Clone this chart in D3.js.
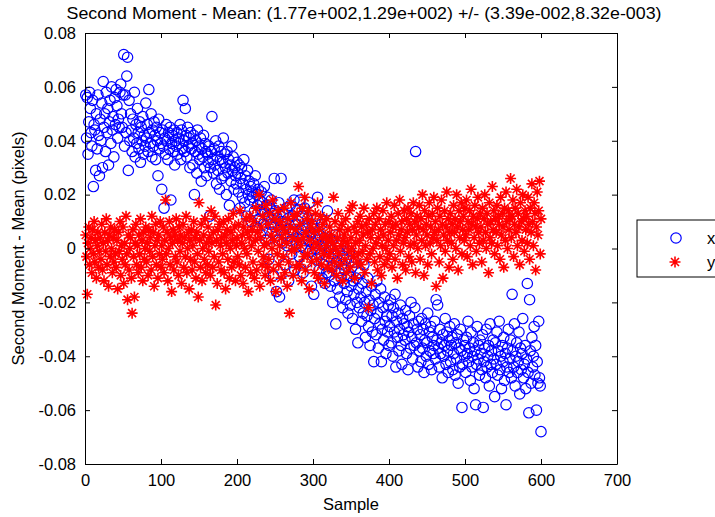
<!DOCTYPE html>
<html>
<head>
<meta charset="utf-8">
<script src="https://d3js.org/d3.v7.min.js"></script>
<style>
  body { margin: 0; background: #fff; }
  svg { display: block; font-family: "Liberation Sans", Arial, sans-serif; }
  text { fill: #000; }
</style>
</head>
<body>
<svg width="715" height="517"></svg>
<script>
// values, in units of 0.001 pixels, one per sample
var xSeries = [
  57, 41, 56, 35, 47, 58, 52, 43, 38, 55, 23, 46, 44, 29, 50, 37, 57, 42, 27, 48,
  40, 54, 30, 62, 45, 50, 36, 58, 43, 52, 31, 47, 55, 39, 60, 44, 49, 34, 56, 46,
  59, 53, 41, 48, 45, 58, 61, 50, 45, 57, 72, 38, 57, 43, 64, 71, 29, 55, 40, 50,
  44, 36, 48, 41, 58, 34, 46, 39, 52, 43, 37, 47, 32, 45, 40, 49, 35, 42, 38, 54,
  41, 46, 36, 59, 43, 39, 50, 34, 44, 38, 47, 42, 33, 45, 40, 27, 48, 37, 43, 39,
  22, 44, 38, 15, 41, 35, 46, 40, 33, 43, 37, 45, 18, 39, 42, 36, 44, 31, 40, 38,
  43, 35, 41, 39, 46, 33, 44, 37, 55, 40, 36, 52, 42, 34, 45, 38, 41, 30, 43, 37,
  39, 31, 42, 20, 36, 40, 28, 44, 35, 38, 33, 41, 25, 37, 34, 42, 30, 39, 36, 27,
  35, 32, 38, 12, 30, 36, 49, 33, 28, 37, 31, 40, 24, 34, 29, 38, 22, 33, 36, 26,
  32, 41, 27, 35, 30, 20, 36, 28, 33, 16, 31, 25, 38, 29, 34, 22, 30, 27, 24, 32,
  28, 21, 31, 15, 26, 30, 19, 24, 33, 17, 27, 22, 12, 29, 20, 25, 18, 23, 10, 21,
  19, 24, 14, 27, 8, 20, 16, 22, 11, 18, 5, 21, 14, 17, 9, 23, 13, 3, 16, 19,
  12, -4, 15, 9, 18, 6, 13, -10, 26, 8, 14, -16, 11, 3, 17, -18, 7, 26, 10, 2,
  13, 5, -6, 9, 15, 1, 11, -12, 7, 16, 3, -2, 12, 6, 18, -8, 9, 2, 14, 4,
  10, -3, 18, 7, 1, 12, -9, 5, 15, 0, 8, -5, 11, 3, 17, -1, 6, -14, 9, 2,
  -17, 7, 0, 11, -4, 19, 3, -8, 5, -2, 9, -11, 1, -6, 4, -13, 2, -9, 14, -3,
  -10, 0, -14, 3, -7, -20, -2, -12, 5, -28, -5, -15, -1, -9, -18, 1, -11, -6, -22, -3,
  -13, -8, -19, -4, -16, -24, -10, -1, -21, -14, -7, -26, -12, -17, -5, -30, -11, -20, -35, -15,
  -22, -9, -18, -27, -13, -24, -6, -20, -33, -16, -25, -11, -29, -19, -36, -23, -14, -31, -21, -42,
  -26, -17, -32, -12, -24, -37, -20, -28, -15, -42, -30, -22, -34, -18, -27, -39, -25, -31, -21, -36,
  -29, -19, -35, -25, -40, -22, -31, -17, -44, -27, -33, -24, -38, -30, -21, -36, -43, -26, -32, -28,
  -34, -23, -39, -29, -45, -31, -25, -37, -20, -33, -41, -28, -36, -22, 36, -35, -30, -44, -27, -38,
  -32, -42, -26, -37, -30, -46, -34, -28, -40, -35, -24, -43, -31, -38, -29, -45, -33, -39, -36, -27,
  -41, -19, -34, -21, -37, -44, -30, -39, -35, -48, -32, -40, -36, -26, -43, -31, -38, -46, -34, -29,
  -42, -36, -33, -45, -39, -28, -47, -35, -41, -32, -50, -37, -44, -30, -38, -59, -43, -34, -40, -36,
  -46, -33, -39, -27, -42, -37, -49, -31, -44, -40, -35, -52, -38, -58, -43, -29, -41, -36, -47, -34,
  -39, -45, -32, -59, -42, -37, -48, -30, -44, -40, -36, -51, -28, -43, -38, -46, -34, -41, -55, -35,
  -43, -31, -47, -38, -27, -45, -40, -52, -36, -42, -33, -49, -39, -58, -44, -37, -30, -46, -41, -34,
  -48, -17, -38, -44, -28, -51, -40, -35, -46, -42, -31, -54, -37, -45, -39, -26, -48, -43, -36, -52,
  -41, -13, -46, -61, -19, -38, -50, -33, -44, -40, -29, -47, -36, -60, -42, -50, -27, -48, -51, -68
];

var ySeries = [
  5, -3, -17, 2, 8, -6, 0, 4, -9, 7, -2, 10, -5, 3, -11, 1, 6, -7, -1, 4,
  -4, 9, -8, 2, -12, 6, -1, 11, -6, 3, -14, 5, -3, 8, 0, -9, 4, -5, 7, -2,
  -7, 3, -15, 6, -1, 10, -10, 1, -4, 8, -13, 2, -6, 12, -2, -19, 5, -8, 0, 4,
  -11, -24, 7, -3, -18, 2, 9, -6, 1, -9, 5, -2, 11, -7, 3, -12, 6, -4, 0, 8,
  -5, 2, -10, 7, -1, 4, -8, 12, -3, 6, -14, 1, 9, -6, 3, -11, 5, -2, 10, -7,
  1, -4, 8, -9, 3, 18, -2, 6, -12, 0, 10, -6, 4, -16, 2, 7, -8, 5, -3, 11,
  -5, 3, -10, 8, -1, 5, -13, 2, 9, -7, 4, -3, 12, -9, 0, 6, -15, 3, -4, 7,
  -8, 1, 10, -5, 4, -11, 6, -2, -18, 17, 3, -7, 9, -12, 0, 5, -4, 11, -9, 2,
  -6, 8, -1, 4, -10, 14, 2, -7, 6, -3, 12, -21, 3, -13, 7, -5, 9, 1, -8, 4,
  -2, 10, -9, 5, -15, 2, 7, -4, 11, -11, 0, 6, -7, 3, 13, -5, 8, -12, 1, 4,
  -3, 9, -6, 14, -10, 2, 5, -13, 8, 0, -7, 11, -2, 6, -16, 4, 12, -9, 1, 7,
  -5, 10, -11, 3, 15, -8, 6, -1, 20, -14, 4, 8, -6, 12, -3, 1, -10, 16, 2, -7,
  9, -4, 13, -12, 5, 0, 18, -8, 3, 11, -16, 7, -2, 14, -6, 1, 10, -11, 4, 8,
  -3, 15, -9, 6, 2, -14, 11, -5, -24, 8, 17, -1, 4, -10, 12, 0, 7, -7, 13, 3,
  23, -6, 9, 1, -12, 15, 4, -3, 19, -8, 6, 11, -2, 14, -15, 3, 8, -5, 10, 0,
  6, -9, 13, 2, -4, 17, -11, 7, 0, 12, -6, 4, 9, -2, -13, 5, 1, 11, -7, 3,
  -3, 8, -1, 5, -8, 2, 19, -5, 10, 0, -10, 4, 13, -2, 7, -6, 1, 9, -12, 3,
  5, -4, 11, -9, 2, 7, -1, 14, -7, 4, 0, 16, -3, 8, -11, 2, 6, -5, 10, -2,
  3, 12, -6, 8, -1, 5, 15, -9, 1, 9, -4, 6, -22, 11, -2, 4, -13, 7, 0, 13,
  -5, 9, 2, 15, -8, 4, 11, -3, 7, -10, 1, 14, 5, -6, 9, 0, 17, -4, 3, 10,
  -2, 6, 12, -7, 8, 1, 16, -4, 9, 3, -11, 13, 5, 18, -1, 7, 10, -6, 2, 14,
  4, -8, 11, 6, 15, -3, 9, 1, 13, -5, 7, 17, 2, 10, -9, 5, 12, 0, 8, 16,
  -4, 11, 3, 20, 7, -10, 14, 1, 9, 5, -6, 12, 17, 2, 8, -2, 13, 4, 19, 6,
  10, -14, 3, 15, 7, -5, 12, 1, 18, 9, -11, 5, 14, -1, 8, 21, 3, 11, -7, 6,
  13, 2, 9, -4, 16, 6, 11, 0, 20, 8, -8, 14, 4, 10, 17, -2, 7, 12, 3, 15,
  5, 18, -3, 10, 7, 14, 1, 22, 9, -6, 12, 4, 16, 8, -1, 11, 19, 6, 2, 13,
  8, -5, 15, 3, 11, 20, 6, 0, 13, 9, -9, 17, 4, 10, 2, 23, 7, 14, -2, 11,
  6, 16, 1, 12, 9, -4, 19, 5, 13, 8, -7, 15, 3, 21, 10, 0, 14, 7, 11, 26,
  4, 12, 18, -3, 9, 15, 6, 22, 1, 13, 8, -6, 17, 10, 3, 20, 11, -1, 14, 7,
  12, 2, 19, 9, -4, 15, 6, 24, 10, 1, 17, 13, -8, 8, 21, 5, 14, 25, -2, 11
];

var xTicks = [0, 100, 200, 300, 400, 500, 600, 700];
var yTicks = [-0.08, -0.06, -0.04, -0.02, 0, 0.02, 0.04, 0.06, 0.08];
var legendNames = ["x", "y"];

var svg = d3.select("svg");
var plotL = 85, plotR = 617, plotT = 33, plotB = 464;
var fs = 16.5;

var x = d3.scaleLinear().domain([0, 700]).range([plotL, plotR]);
var y = d3.scaleLinear().domain([-0.08, 0.08]).range([plotB, plotT]);

var star = "M-5.5,0H5.5M0,-5.5V5.5M-4,-4L4,4M-4,4L4,-4";

// x series - blue circles
svg.append("g")
    .selectAll("circle")
    .data(xSeries)
  .enter().append("circle")
    .attr("cx", function(d, i) { return x(i + 1); })
    .attr("cy", function(d) { return y(d / 1000); })
    .attr("r", 5.2)
    .attr("fill", "none")
    .attr("stroke", "#0000ff")
    .attr("stroke-width", 1.2);

// y series - red stars
svg.append("g")
    .selectAll("path")
    .data(ySeries)
  .enter().append("path")
    .attr("transform", function(d, i) { return "translate(" + x(i + 1) + "," + y(d / 1000) + ")"; })
    .attr("d", star)
    .attr("fill", "none")
    .attr("stroke", "#ff0000")
    .attr("stroke-width", 1.6);

// axes, ticks inside, box on
var fmtY = function(d) { return d === 0 ? "0" : d.toFixed(2); };

svg.append("g")
    .attr("transform", "translate(0," + plotB + ")")
    .call(d3.axisBottom(x).tickValues(xTicks).tickSizeInner(-5).tickSizeOuter(0).tickPadding(10))
    .call(function(g) { g.selectAll("text").attr("font-size", fs).attr("font-family", "Liberation Sans"); });

svg.append("g")
    .attr("transform", "translate(0," + plotT + ")")
    .call(d3.axisTop(x).tickValues(xTicks).tickSizeInner(-5).tickSizeOuter(0).tickFormat(""));

svg.append("g")
    .attr("transform", "translate(" + plotL + ",0)")
    .call(d3.axisLeft(y).tickValues(yTicks).tickSizeInner(-5).tickSizeOuter(0).tickPadding(9).tickFormat(fmtY))
    .call(function(g) { g.selectAll("text").attr("font-size", fs).attr("font-family", "Liberation Sans"); });

svg.append("g")
    .attr("transform", "translate(" + plotR + ",0)")
    .call(d3.axisRight(y).tickValues(yTicks).tickSizeInner(-5).tickSizeOuter(0).tickFormat(""));

svg.selectAll(".domain").attr("stroke", "#000");
svg.selectAll(".tick line").attr("stroke", "#000");

// title and labels
svg.append("text")
    .attr("x", 364)
    .attr("y", 19)
    .attr("text-anchor", "middle")
    .attr("font-size", fs)
    .attr("textLength", 595)
    .attr("lengthAdjust", "spacingAndGlyphs")
    .text("Second Moment - Mean: (1.77e+002,1.29e+002) +/- (3.39e-002,8.32e-003)");

svg.append("text")
    .attr("x", (plotL + plotR) / 2)
    .attr("y", 510)
    .attr("text-anchor", "middle")
    .attr("font-size", fs)
    .text("Sample");

svg.append("text")
    .attr("transform", "translate(24," + (plotT + plotB) / 2 + ") rotate(-90)")
    .attr("text-anchor", "middle")
    .attr("font-size", fs)
    .text("Second Moment - Mean (pixels)");

// legend (runs off the right edge like the original)
var legend = svg.append("g").attr("transform", "translate(637,220)");
legend.append("rect")
    .attr("width", 120)
    .attr("height", 57)
    .attr("fill", "#fff")
    .attr("stroke", "#000");
legend.append("circle")
    .attr("cx", 39).attr("cy", 18).attr("r", 5.2)
    .attr("fill", "none").attr("stroke", "#0000ff").attr("stroke-width", 1.2);
legend.append("path")
    .attr("transform", "translate(38,42)")
    .attr("d", star)
    .attr("fill", "none").attr("stroke", "#ff0000").attr("stroke-width", 1.6);
legend.selectAll("text.name")
    .data(legendNames)
  .enter().append("text")
    .attr("class", "name")
    .attr("x", 70)
    .attr("y", function(d, i) { return 24 + i * 24; })
    .attr("font-size", fs)
    .text(function(d) { return d; });
</script>
</body>
</html>
